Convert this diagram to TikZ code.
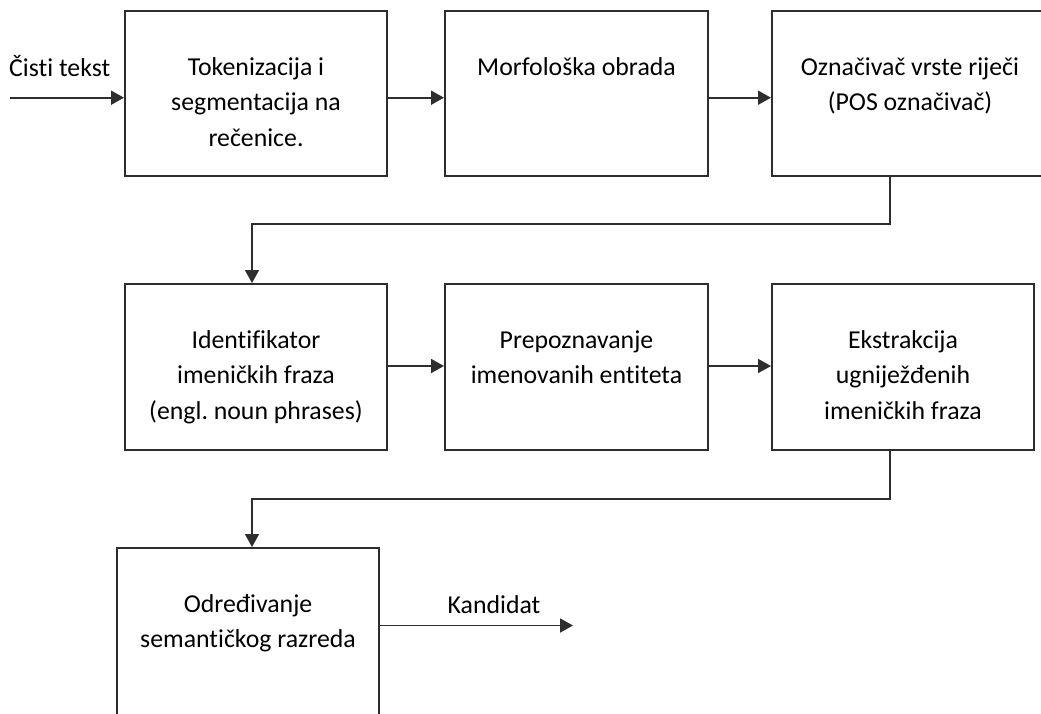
\documentclass[tikz,border=0pt]{standalone}
\usepackage{fontspec}
\setmainfont{Carlito}[Ligatures=NoCommon]
\frenchspacing
\usetikzlibrary{arrows.meta}
\definecolor{ln}{HTML}{2E2E2E}
\newcommand{\ctxt}[2]{\parbox[t]{#1}{\centering #2}}
\tikzset{
  box/.style={draw=ln, line width=2pt, rectangle, inner sep=0pt, minimum height=165pt},
  txt/.style={anchor=base, inner sep=0pt, font=\fontsize{25.8}{35.7}\selectfont},
  arr/.style={draw=ln, line width=1.8pt, -{Triangle[length=13pt,width=14pt]}},
  lbl/.style={inner sep=0pt, font=\fontsize{25.8}{35.7}\selectfont},
}
\begin{document}
\begin{tikzpicture}[x=1pt,y=-1pt]
\clip (0,0) rectangle (1041,713);
\fill[white] (0,0) rectangle (1041,713);
% row 1
\node[box, minimum width=262pt] (b1) at (256,93.5) {};
\node[box, minimum width=263pt] (b2) at (576.5,93.5) {};
\node[box, minimum width=276pt] (b3) at (910,93.5) {};
\node[txt] (t1) at ([yshift=-65pt]b1.north) {\ctxt{250pt}{Tokenizacija i\\segmentacija na\\rečenice.}};
\node[txt] (t2) at ([yshift=-65pt]b2.north) {\ctxt{250pt}{Morfološka obrada}};
\node[txt] (t3) at ([yshift=-65pt]b3.north) {\ctxt{262pt}{Označivač vrste riječi\\(POS označivač)}};
% row 2
\node[box, minimum width=262pt, minimum height=166pt] (b4) at (256,367) {};
\node[box, minimum width=263pt, minimum height=166pt] (b5) at (576.5,367) {};
\node[box, minimum width=262pt, minimum height=166pt] (b6) at (903,367) {};
\node[txt] (t4) at ([yshift=-65pt]b4.north) {\ctxt{250pt}{Identifikator\\imeničkih fraza\\(engl. noun phrases)}};
\node[txt] (t5) at ([yshift=-65pt]b5.north) {\ctxt{250pt}{Prepoznavanje\\imenovanih entiteta}};
\node[txt] (t6) at ([yshift=-65pt]b6.north) {\ctxt{250pt}{Ekstrakcija\\ugniježđenih\\imeničkih fraza}};
% row 3
\node[box, minimum width=262pt, minimum height=170pt] (b7) at (248,633) {};
\node[txt] (t7) at ([yshift=-65pt]b7.north) {\ctxt{250pt}{Određivanje\\semantičkog razreda}};
% input / output
\coordinate (in) at (10,97.7);
\node[lbl, anchor=base west] (lin) at (9,76) {Čisti tekst};
\coordinate (out) at (573,625.5);
\node[lbl, anchor=base] (lout) at (494,613) {Kandidat};
% connectors
\draw[arr] (in) -- (in -| b1.west);
\draw[arr] ([yshift=-4.2pt]b1.east) -- ([yshift=-4.2pt]b2.west);
\draw[arr] ([yshift=-4.2pt]b2.east) -- ([yshift=-4.2pt]b3.west);
\coordinate (c1) at (890,224);
\draw[arr] (b3.south -| c1) -- (c1) -| ([xshift=-4pt]b4.north);
\draw[arr] ([yshift=1pt]b4.east) -- ([yshift=1pt]b5.west);
\draw[arr] ([yshift=1pt]b5.east) -- ([yshift=1pt]b6.west);
\coordinate (c2) at (890,499);
\draw[arr] (b6.south -| c2) -- (c2) -| ([xshift=4pt]b7.north);
\draw[arr] (b7.east |- out) -- (out);
\end{tikzpicture}
\end{document}
